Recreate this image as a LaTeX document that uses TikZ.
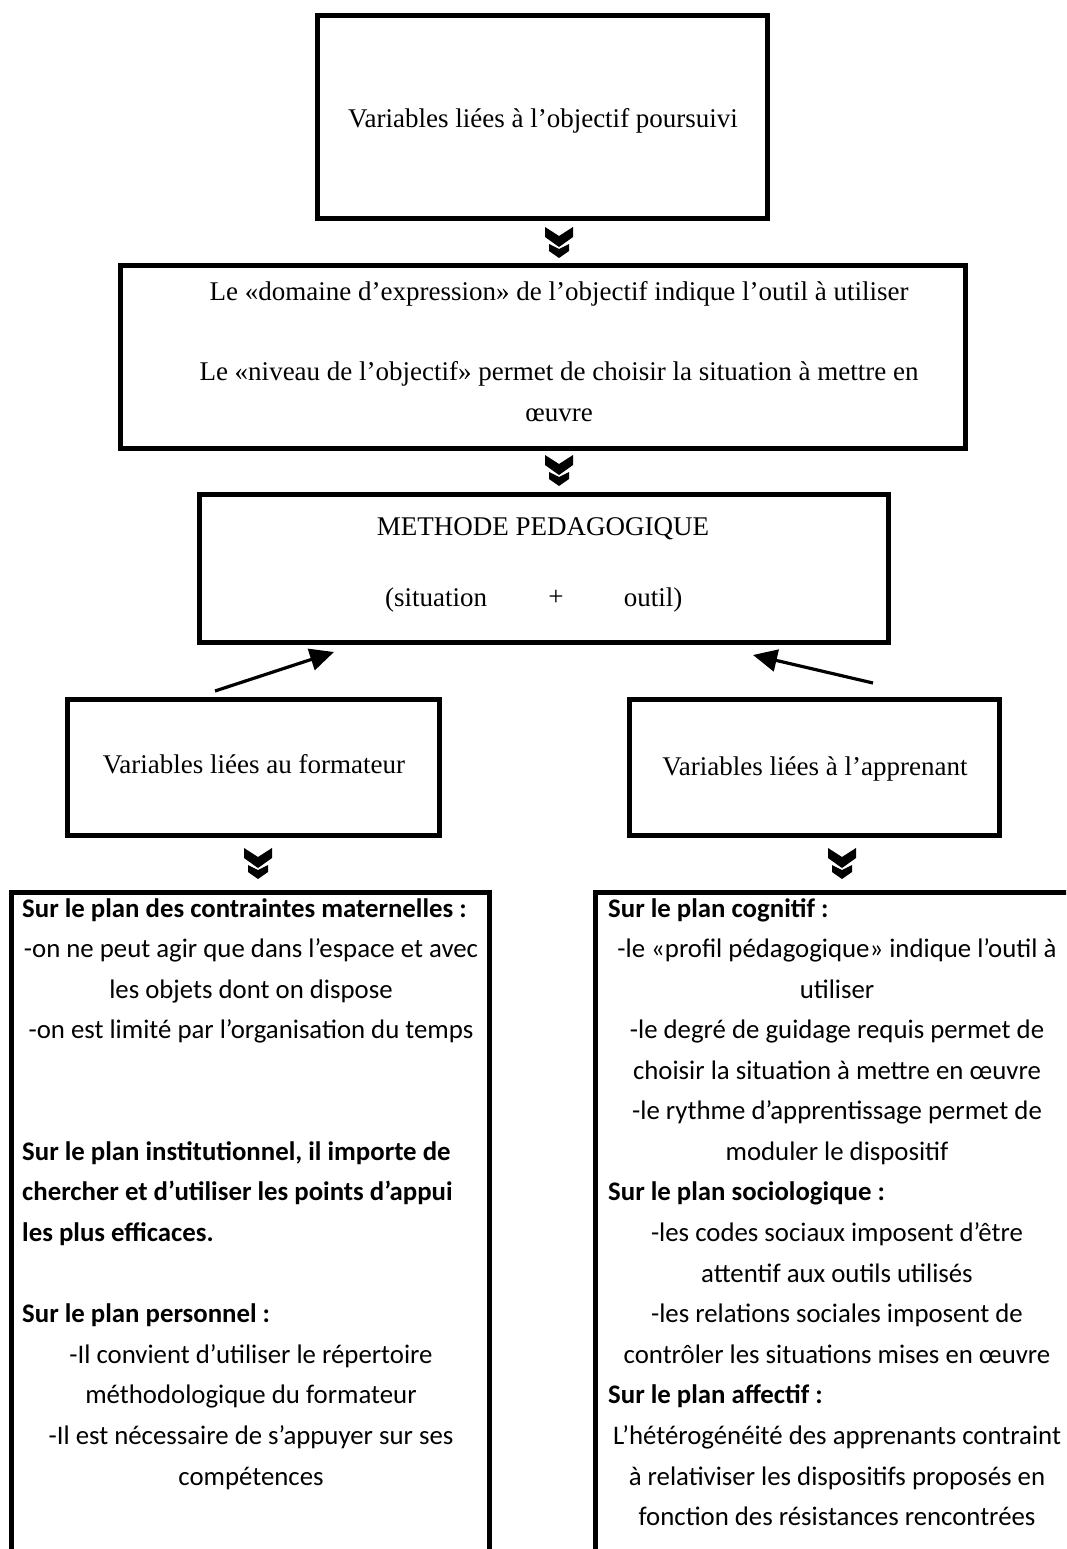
\documentclass[tikz,border=0pt]{standalone}
\usepackage{fontspec}
\setmainfont{Liberation Serif}
\newfontfamily\calfont{Carlito}
\usetikzlibrary{arrows.meta}
\begin{document}
\begin{tikzpicture}[x=1pt,y=-1pt,
  box/.style={draw, line width=5pt, inner sep=0pt},
  sertxt/.style={font=\fontsize{27}{30}\selectfont, inner sep=0pt, text height=17pt, text depth=6pt, yshift=-3pt},
  caltxt/.style={font=\calfont\fontsize{26.8}{30}\selectfont, inner sep=0pt, text height=17pt, text depth=5pt, yshift=-3pt},
  calbold/.style={font=\calfont\bfseries\fontsize{26.8}{30}\selectfont, inner sep=0pt, text height=17pt, text depth=5pt, anchor=west, yshift=-3pt},
  arr/.style={line width=3.2pt, -{Triangle[length=24pt,width=22pt]}},
  dchev/.pic={
    \fill (-14,0) -- (0,9) -- (14,0) -- (14,10) -- (0,20) -- (-14,10) -- cycle;
    \fill (-10,17) -- (0,22) -- (10,17) -- (10,24) -- (0,31) -- (-10,24) -- cycle;
  }]
\useasboundingbox (0,0) rectangle (1066,1549);
\clip (0,0) rectangle (1066,1549);
\fill[white] (0,0) rectangle (1066,1549);

% boxes
\node[box, minimum width=450pt, minimum height=203pt] (b1) at (542.5,117) {};
\node[box, minimum width=845pt, minimum height=183.5pt] (b2) at (543,357) {};
\node[box, minimum width=689pt, minimum height=148pt] (b3) at (543.5,568) {};
\node[box, minimum width=372pt, minimum height=136pt] (b4) at (253,767) {};
\node[box, minimum width=370pt, minimum height=136pt] (b5) at (814,767) {};
\node[box, minimum width=478.5pt, minimum height=708pt] (b6) at (250.25,1246) {};
\node[box, minimum width=504.5pt, minimum height=708pt] (b7) at (847.75,1246) {};

% box texts
\node[sertxt] (t1) at (543,119) {Variables liées à l’objectif poursuivi};
\node[sertxt] (t2a) at (559,292) {Le «domaine d’expression» de l’objectif indique l’outil à utiliser};
\node[sertxt] (t2b) at (559,372) {Le «niveau de l’objectif» permet de choisir la situation à mettre en};
\node[sertxt] (t2c) at (559,413) {œuvre};
\node[sertxt] (t3a) at (543,527) {METHODE PEDAGOGIQUE};
\node[sertxt] (t3b) at (436,598) {(situation};
\node[sertxt] (t3c) at (556,597) {+};
\node[sertxt] (t3d) at (653,598) {outil)};
\node[sertxt] (t4) at (254,765) {Variables liées au formateur};
\node[sertxt] (t5) at (815,767) {Variables liées à l’apprenant};

% chevrons
\pic at (559,227) {dchev};
\pic at (559,455) {dchev};
\pic at (258,848) {dchev};
\pic at (842,848) {dchev};

% arrows
\coordinate (la) at (215,691);
\coordinate (lb) at (334,652);
\coordinate (ra) at (873,683);
\coordinate (rb) at (753,655);
\draw[arr] (la) -- (lb);
\draw[arr] (ra) -- (rb);

% left bottom texts
\node[calbold] (l0) at (22,908) {Sur le plan des contraintes maternelles :};
\node[caltxt] (l1) at (251,948.5) {-on ne peut agir que dans l’espace et avec};
\node[caltxt] (l2) at (251,989) {les objets dont on dispose};
\node[caltxt] (l3) at (251,1029.5) {-on est limité par l’organisation du temps};
\node[calbold] (l6) at (22,1151) {Sur le plan institutionnel, il importe de};
\node[calbold] (l7) at (22,1191.5) {chercher et d’utiliser les points d’appui};
\node[calbold] (l8) at (22,1232) {les plus efficaces.};
\node[calbold] (l10) at (22,1313) {Sur le plan personnel :};
\node[caltxt] (l11) at (251,1354) {-Il convient d’utiliser le répertoire};
\node[caltxt] (l12) at (251,1394.5) {méthodologique du formateur};
\node[caltxt] (l13) at (251,1435) {-Il est nécessaire de s’appuyer sur ses};
\node[caltxt] (l14) at (251,1476) {compétences};

% right bottom texts
\node[calbold] (r0) at (608,908) {Sur le plan cognitif :};
\node[caltxt] (r1) at (837,948.5) {-le «profil pédagogique» indique l’outil à};
\node[caltxt] (r2) at (837,989) {utiliser};
\node[caltxt] (r3) at (837,1029.5) {-le degré de guidage requis permet de};
\node[caltxt] (r4) at (837,1070) {choisir la situation à mettre en œuvre};
\node[caltxt] (r5) at (837,1110.5) {-le rythme d’apprentissage permet de};
\node[caltxt] (r6) at (837,1151) {moduler le dispositif};
\node[calbold] (r7) at (608,1191.5) {Sur le plan sociologique :};
\node[caltxt] (r8) at (837,1232) {-les codes sociaux imposent d’être};
\node[caltxt] (r9) at (837,1273) {attentif aux outils utilisés};
\node[caltxt] (r10) at (837,1313) {-les relations sociales imposent de};
\node[caltxt] (r11) at (837,1354) {contrôler les situations mises en œuvre};
\node[calbold] (r12) at (608,1394.5) {Sur le plan affectif :};
\node[caltxt] (r13) at (837,1435) {L’hétérogénéité des apprenants contraint};
\node[caltxt] (r14) at (837,1476) {à relativiser les dispositifs proposés en};
\node[caltxt] (r15) at (837,1516.5) {fonction des résistances rencontrées};
\end{tikzpicture}
\end{document}
